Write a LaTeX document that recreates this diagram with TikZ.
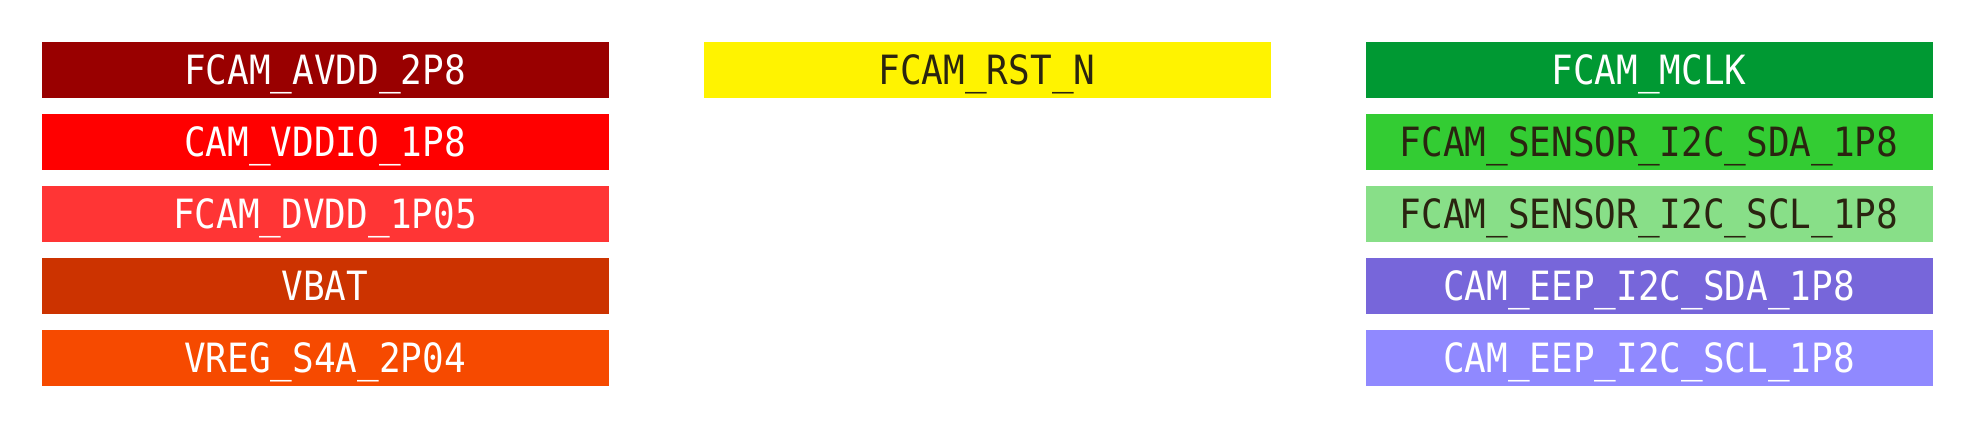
\documentclass[tikz,border=0pt]{standalone}
\usepackage{fontspec}
\setmonofont{DejaVu Sans Mono}
\usetikzlibrary{positioning}

\begin{document}
\begin{tikzpicture}[x=0.5pt, y=0.5pt, node distance=8pt,
    net/.style={inner sep=0pt, outer sep=0pt, minimum width=283.5pt, minimum height=28pt,
      text height=14.6pt, text depth=0pt,
      font=\fontsize{18}{18}\selectfont\ttfamily, text=white}]
    \def\lbl#1{\scalebox{1}[1.12]{#1}}
    \definecolor{my-darkred}{HTML}{990000}
    \definecolor{my-red}{HTML}{FF0000}
    \definecolor{my-lightred}{HTML}{FF3535}
    \definecolor{my-rust}{HTML}{CC3300}
    \definecolor{my-orange}{HTML}{F64A00}
    \definecolor{my-yellow}{HTML}{FFF300}
    \definecolor{my-darkgreen}{HTML}{009933}
    \definecolor{my-green}{HTML}{33CC33}
    \definecolor{my-lightgreen}{HTML}{88DF88}
    \definecolor{my-violet}{HTML}{7766DA}
    \definecolor{my-lavender}{HTML}{9089FF}
    \definecolor{my-ink}{HTML}{2A2410}
    \useasboundingbox (0,0) rectangle (1972,429);
    % power rails
    \node[net, fill=my-darkred] (avdd) at (325,359) {\lbl{FCAM\_AVDD\_2P8}};
    \node[net, fill=my-red, below=of avdd] (vddio) {\lbl{CAM\_VDDIO\_1P8}};
    \node[net, fill=my-lightred, below=of vddio] (dvdd) {\lbl{FCAM\_DVDD\_1P05}};
    \node[net, fill=my-rust, below=of dvdd] (vbat) {\lbl{VBAT}};
    \node[net, fill=my-orange, below=of vbat] (vreg) {\lbl{VREG\_S4A\_2P04}};
    % reset
    \node[net, fill=my-yellow, text=my-ink] (rst) at (987,359) {\lbl{FCAM\_RST\_N}};
    % clock and buses
    \node[net, fill=my-darkgreen] (mclk) at (1649,359) {\lbl{FCAM\_MCLK}};
    \node[net, fill=my-green, text=my-ink, below=of mclk] (sda) {\lbl{FCAM\_SENSOR\_I2C\_SDA\_1P8}};
    \node[net, fill=my-lightgreen, text=my-ink, below=of sda] (scl) {\lbl{FCAM\_SENSOR\_I2C\_SCL\_1P8}};
    \node[net, fill=my-violet, below=of scl] (eepsda) {\lbl{CAM\_EEP\_I2C\_SDA\_1P8}};
    \node[net, fill=my-lavender, below=of eepsda] (eepscl) {\lbl{CAM\_EEP\_I2C\_SCL\_1P8}};
  \end{tikzpicture}
\end{document}
